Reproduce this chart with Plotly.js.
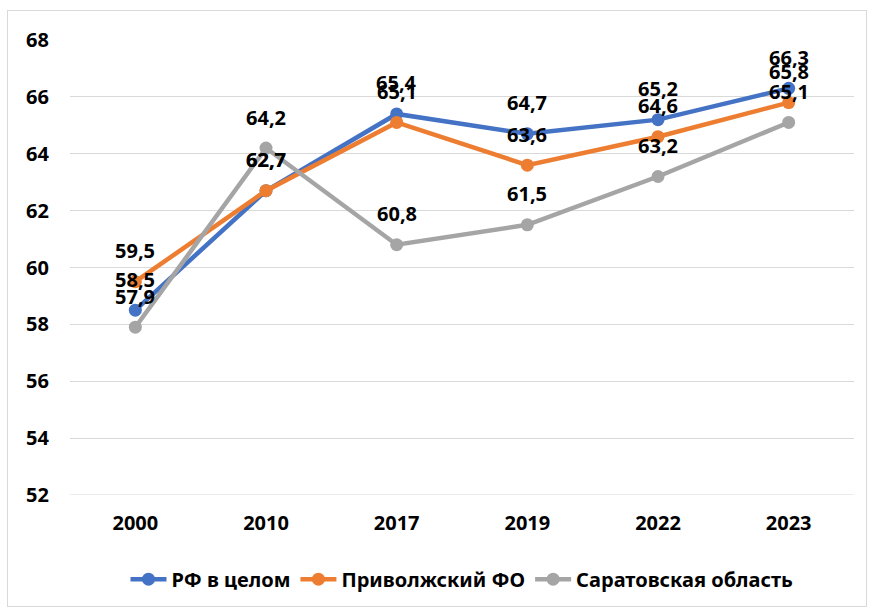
<!DOCTYPE html>
<html>
<head>
<meta charset="utf-8">
<script src="https://cdn.plot.ly/plotly-3.0.1.min.js"></script>
<style>
html,body{margin:0;padding:0;background:#fff;}
#wrap{position:relative;width:873px;height:611px;}
#chart{position:absolute;left:0;top:0;width:873px;height:611px;}
#frame{position:absolute;left:7px;top:10px;width:858px;height:595px;border:1px solid #d9d9d9;pointer-events:none;}
</style>
</head>
<body>
<div id="wrap"><div id="chart"></div><div id="frame"></div></div>
<script>
var years = ["2000", "2010", "2017", "2019", "2022", "2023"];
var rf = [58.5, 62.7, 65.4, 64.7, 65.2, 66.3];
var pfo = [59.5, 62.7, 65.1, 63.6, 64.6, 65.8];
var sar = [57.9, 64.2, 60.8, 61.5, 63.2, 65.1];
var names = ["РФ в целом", "Приволжский ФО", "Саратовская область"];
var colors = ["#4472C4", "#ED7D31", "#A5A5A5"];
var yTicks = [52, 54, 56, 58, 60, 62, 64, 66, 68];

var FONT = "Noto Sans, Liberation Sans, Arial, sans-serif";
var FS = 20;
var series = [rf, pfo, sar];
var traces = series.map(function (s, i) {
  return {
    x: years, y: s, name: names[i], type: "scatter", mode: "lines+markers",
    line: {color: colors[i], width: 4.5},
    marker: {color: colors[i], size: 13},
    cliponaxis: false
  };
});

function fmt(v) { return v.toFixed(1).replace(".", ","); }
var annotations = [];
series.forEach(function (s, i) {
  s.forEach(function (v, j) {
    annotations.push({
      x: j, y: v, xref: "x", yref: "y", text: fmt(v), showarrow: false,
      yshift: 31, yanchor: "middle", xanchor: "center",
      font: {family: FONT, size: FS, color: "#000", weight: "bold"}
    });
  });
});

var layout = {
  width: 873, height: 611,
  margin: {l: 70, r: 19, t: 40, b: 114},
  paper_bgcolor: "#fff", plot_bgcolor: "#fff",
  font: {family: FONT, size: FS, color: "#000", weight: "bold"},
  xaxis: {
    type: "category", categoryorder: "array", categoryarray: years,
    range: [-0.5, years.length - 0.5], autorange: false,
    showgrid: false, zeroline: false, showline: false,
    ticks: "", ticklabelstandoff: 14,
    tickfont: {family: FONT, size: FS, color: "#000", weight: "bold"}
  },
  yaxis: {
    range: [52, 68], autorange: false, tickvals: yTicks, ticktext: yTicks.map(String),
    showgrid: true, gridcolor: "#d9d9d9", gridwidth: 1, zeroline: false, showline: false,
    ticks: "", ticklabelstandoff: 20,
    tickfont: {family: FONT, size: FS, color: "#000", weight: "bold"}
  },
  shapes: [{
    type: "line", xref: "paper", yref: "y", x0: 0, x1: 1, y0: 52, y1: 52,
    line: {color: "#d9d9d9", width: 1}, layer: "below"
  }],
  showlegend: true,
  legend: {
    orientation: "h", x: 0.5, xanchor: "center", y: -0.185, yanchor: "middle",
    font: {family: FONT, size: FS, color: "#000", weight: "bold"},
    itemwidth: 36, tracegroupgap: 0
  },
  annotations: annotations
};

Plotly.newPlot("chart", traces, layout, {displayModeBar: false, staticPlot: true});
</script>
</body>
</html>
